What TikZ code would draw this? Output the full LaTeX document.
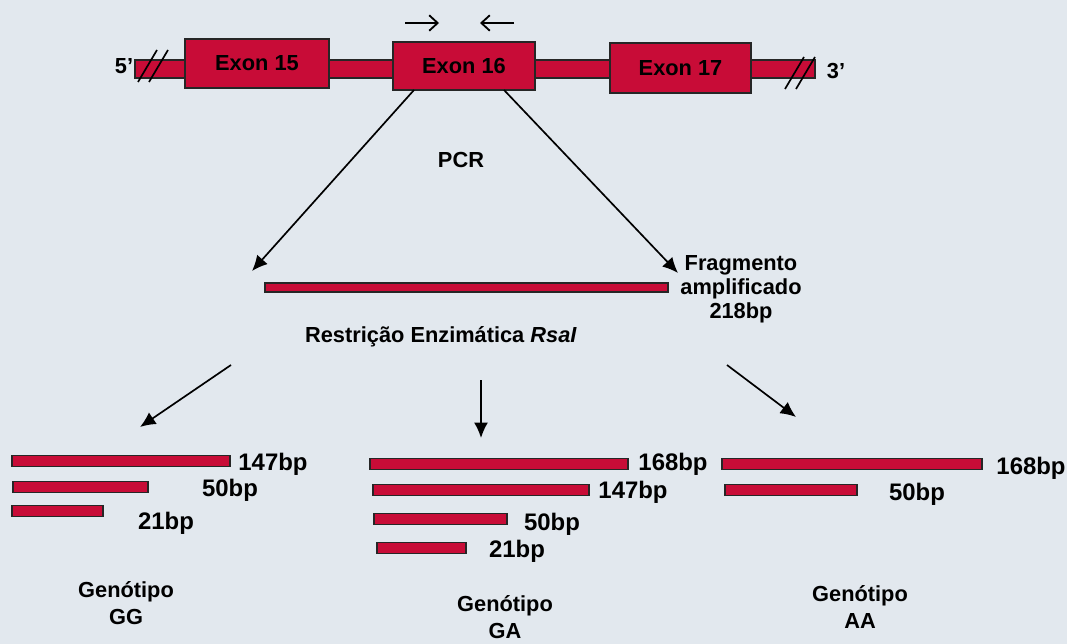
\documentclass[tikz,border=0pt]{standalone}
\usepackage{fontspec}
\setmainfont{Liberation Sans}
\usepackage{tikz}
\usetikzlibrary{arrows.meta,positioning}
\definecolor{exonred}{RGB}{200,12,55}
\definecolor{paper}{RGB}{226,232,238}
\tikzset{
	exon/.style={draw=black!85,fill=exonred,line width=1pt,font=\bfseries\fontsize{15.5}{18}\selectfont,inner sep=0pt},
	bar/.style={draw=black!85,fill=exonred,line width=1pt},
	lbl/.style={font=\bfseries\fontsize{15.5}{18}\selectfont,inner sep=0pt,align=center},
	bplbl/.style={font=\bfseries\fontsize{17}{20}\selectfont,inner sep=0pt},
	seta/.style={-{Latex[length=11pt,width=10pt]},line width=1.2pt}
}

\begin{document}
\begin{tikzpicture}[x=0.025cm,y=-0.025cm]
			\fill[paper] (0,0) rectangle (1067,644);
			\useasboundingbox (0,0) rectangle (1067,644);
			% gene
			\draw[bar] (135,60) rectangle (815,78);
			\draw[line width=1.2pt] (138,82) -- (157,50) (149,82) -- (168,50);
			\draw[line width=1.2pt] (785,89) -- (804,57) (796,89) -- (815,57);
			\node[exon,minimum width=3.6cm,minimum height=1.225cm] (ex15) at (257,63.5) {Exon 15};
			\node[exon,minimum width=3.55cm,minimum height=1.2cm] (ex16) at (464,66) {Exon 16};
			\node[exon,minimum width=3.525cm,minimum height=1.25cm] (ex17) at (680.5,68) {Exon 17};
			\node[lbl] (p5) at (124,66) {5’};
			\node[lbl] (p3) at (836,71) {3’};
			% primers
			\coordinate (fw1) at (405,23); \coordinate (fw2) at (439,23);
			\coordinate (rv1) at (514,23); \coordinate (rv2) at (480,23);
			\draw[-{Straight Barb[length=6pt,width=11pt]},line width=1.3pt] (fw1) -- (fw2);
			\draw[-{Straight Barb[length=6pt,width=11pt]},line width=1.3pt] (rv1) -- (rv2);
			% PCR
			\coordinate (pa) at (414,90); \coordinate (pb) at (504,90);
			\coordinate (ta) at (252,271); \coordinate (tb) at (678,273);
			\draw[seta] (pa) -- (ta);
			\draw[seta] (pb) -- (tb);
			\node[lbl] (pcr) at (461,160) {PCR};
			\draw[bar] (265,283) rectangle (668,292);
			\node[lbl] (frag) at (741,289) {Fragmento\\[-1pt]amplificado\\[-1pt]218bp};
			\node[lbl] (rsa) at (441,337) {Restrição Enzimática \textit{RsaI}};
			% restriction
			\coordinate (ra) at (231,365); \coordinate (rb) at (481,380); \coordinate (rc) at (727,365);
			\coordinate (ga) at (140,427); \coordinate (gb) at (481,438); \coordinate (gc) at (796,417);
			\draw[seta] (ra) -- (ga);
			\draw[seta] (rb) -- (gb);
			\draw[seta] (rc) -- (gc);
			% fragments
			\foreach \a/\b/\y/\lx/\ly/\t in {12/230/461/273/464/147bp,13/148/487/230/490/50bp,12/103/511/166/523/21bp,
				370/628/464/673/464/168bp,373/589/490/633/492/147bp,374/507/519/552/524/50bp,377/466/548/517/551/21bp,
				722/982/464/1031/468/168bp,725/857/490/917/494/50bp}
				\draw[bar] (\a,\y-5.5) rectangle (\b,\y+5.5) node[bplbl] at (\lx,\ly) {\t};
			\node[lbl] (gg) at (126,603) {Genótipo\\[1pt]GG};
			\node[lbl] (gn) at (505,617) {Genótipo\\[1pt]GA};
			\node[lbl] (aa) at (860,607) {Genótipo\\[1pt]AA};
		\end{tikzpicture}
\end{document}
